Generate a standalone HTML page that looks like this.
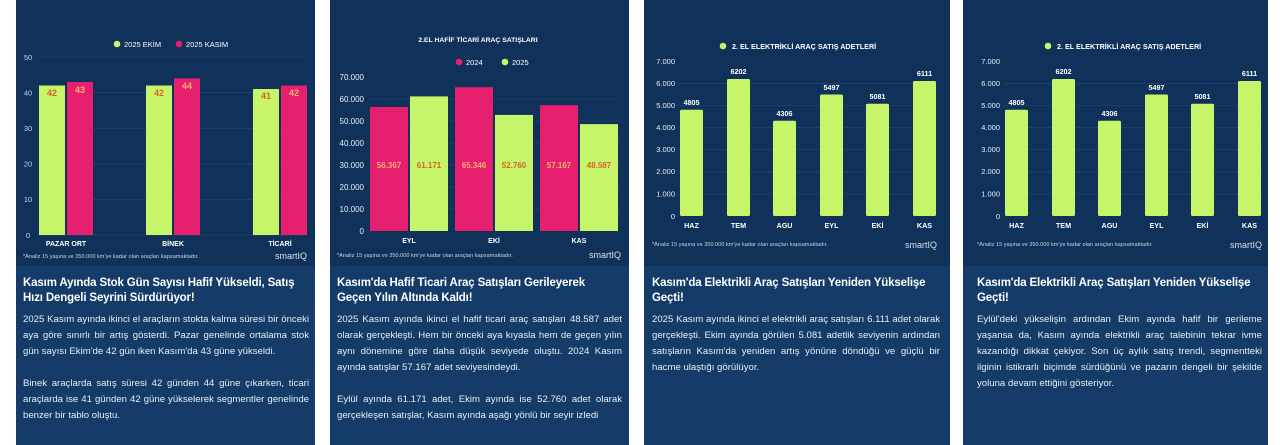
<!DOCTYPE html>
<html><head><meta charset="utf-8">
<style>
html,body{margin:0;padding:0;background:#fff;}
body{width:1280px;height:445px;position:relative;overflow:hidden;font-family:"Liberation Sans",sans-serif;}
.card{position:absolute;top:0;height:445px;background:#153c68;}
.top{position:absolute;left:0;top:0;right:0;height:266px;background:#10315a;}
.txt{position:absolute;color:#e6edf5;}
.t{font-weight:bold;font-size:11.5px;line-height:15px;color:#fff;letter-spacing:-0.15px;white-space:nowrap;}
.p{font-size:9.6px;line-height:16px;text-align:justify;margin:0;}
svg{position:absolute;left:0;top:0;}
</style></head><body>
<div class="card" style="left:16px;width:299px"><div class="top"></div></div>
<div class="card" style="left:330px;width:299px"><div class="top"></div></div>
<div class="card" style="left:644px;width:306px"><div class="top"></div></div>
<div class="card" style="left:963px;width:305px"><div class="top"></div></div>

<svg width="1280" height="445" font-family="Liberation Sans, sans-serif">
<!-- Card1 -->
<g stroke="#2a4a72" stroke-width="0.6">
<line x1="37" x2="307" y1="57" y2="57"/><line x1="37" x2="307" y1="92.6" y2="92.6"/><line x1="37" x2="307" y1="128.2" y2="128.2"/><line x1="37" x2="307" y1="163.8" y2="163.8"/><line x1="37" x2="307" y1="199.4" y2="199.4"/><line x1="37" x2="307" y1="235" y2="235"/>
</g>
<g fill="#c9d4e2" font-size="7.5" text-anchor="middle">
<text x="28" y="60">50</text><text x="28" y="95.6">40</text><text x="28" y="131">30</text><text x="28" y="166.6">20</text><text x="28" y="202">10</text><text x="28" y="238">0</text>
</g>
<circle cx="117" cy="44" r="3.3" fill="#c6f56a"/><text x="124" y="47" fill="#fff" font-size="7.5">2025 EKİM</text>
<circle cx="179" cy="44" r="3.3" fill="#e61f6f"/><text x="186" y="47" fill="#fff" font-size="7.5">2025 KASIM</text>
<g fill="#c6f56a"><rect x="39" y="85.5" width="26" height="149.5"/><rect x="146" y="85.5" width="26" height="149.5"/><rect x="253" y="89" width="26" height="146"/></g>
<g fill="#e61f6f"><rect x="67" y="82" width="26" height="153"/><rect x="174" y="78.4" width="26" height="156.6"/><rect x="281" y="85.5" width="26" height="149.5"/></g>
<g font-size="9" text-anchor="middle" font-weight="bold">
<text x="52" y="96" fill="#d9622b">42</text><text x="80" y="93" fill="#f6b26b">43</text>
<text x="159" y="96" fill="#d9622b">42</text><text x="187" y="89" fill="#f6b26b">44</text>
<text x="266" y="99" fill="#d9622b">41</text><text x="294" y="96" fill="#f6b26b">42</text>
</g>
<g fill="#fff" font-size="7" font-weight="bold" text-anchor="middle">
<text x="66" y="246">PAZAR ORT</text><text x="173" y="246">BİNEK</text><text x="280" y="246">TİCARİ</text>
</g>
<text x="23" y="258" fill="#c9d4e2" font-size="5.6">*Analiz 15 yaşına ve 350.000 km'ye kadar olan araçları kapsamaktadır.</text>
<text x="307" y="259" fill="#d8e0ea" font-size="9" text-anchor="end">smartIQ</text>

<!-- Card2 -->
<text x="478" y="42" fill="#fff" font-size="6.8" font-weight="bold" text-anchor="middle">2.EL HAFİF TİCARİ ARAÇ SATIŞLARI</text>
<circle cx="459" cy="62" r="3.3" fill="#e61f6f"/><text x="466" y="65" fill="#fff" font-size="7.5">2024</text>
<circle cx="505" cy="62" r="3.3" fill="#c6f56a"/><text x="512" y="65" fill="#fff" font-size="7.5">2025</text>
<g stroke="#2a4a72" stroke-width="0.6">
<line x1="368" x2="620" y1="99" y2="99"/><line x1="368" x2="620" y1="121" y2="121"/><line x1="368" x2="620" y1="143" y2="143"/><line x1="368" x2="620" y1="165" y2="165"/><line x1="368" x2="620" y1="187" y2="187"/><line x1="368" x2="620" y1="209" y2="209"/>
</g>
<g fill="#e8eef5" font-size="8" text-anchor="end">
<text x="364" y="80">70.000</text><text x="364" y="102">60.000</text><text x="364" y="124">50.000</text><text x="364" y="146">40.000</text><text x="364" y="168">30.000</text><text x="364" y="190">20.000</text><text x="364" y="212">10.000</text><text x="364" y="234">0</text>
</g>
<g fill="#e61f6f"><rect x="370" y="107" width="38" height="124"/><rect x="455" y="87.2" width="38" height="143.8"/><rect x="540" y="105.2" width="38" height="125.8"/></g>
<g fill="#c6f56a"><rect x="410" y="96.4" width="38" height="134.6"/><rect x="495" y="114.9" width="38" height="116.1"/><rect x="580" y="124.1" width="38" height="106.9"/></g>
<g font-size="8" font-weight="bold" text-anchor="middle">
<text x="389" y="168" fill="#f6b26b">56.367</text><text x="429" y="168" fill="#d9622b">61.171</text>
<text x="474" y="168" fill="#f6b26b">65.346</text><text x="514" y="168" fill="#d9622b">52.760</text>
<text x="559" y="168" fill="#f6b26b">57.167</text><text x="599" y="168" fill="#d9622b">48.587</text>
</g>
<g fill="#fff" font-size="7" font-weight="bold" text-anchor="middle">
<text x="409" y="243">EYL</text><text x="494" y="243">EKİ</text><text x="579" y="243">KAS</text>
</g>
<text x="337" y="257" fill="#c9d4e2" font-size="5.6">*Analiz 15 yaşına ve 350.000 km'ye kadar olan araçları kapsamaktadır.</text>
<text x="621" y="258" fill="#d8e0ea" font-size="9" text-anchor="end">smartIQ</text>

<!-- Card3 -->
<circle cx="723" cy="46" r="3.3" fill="#c6f56a"/><text x="732" y="49" fill="#fff" font-size="7.2" font-weight="bold">2. EL ELEKTRİKLİ ARAÇ SATIŞ ADETLERİ</text>
<g stroke="#2a4a72" stroke-width="0.6">
<line x1="678" x2="938" y1="83.4" y2="83.4"/><line x1="678" x2="938" y1="105.5" y2="105.5"/><line x1="678" x2="938" y1="127.6" y2="127.6"/><line x1="678" x2="938" y1="149.7" y2="149.7"/><line x1="678" x2="938" y1="171.8" y2="171.8"/><line x1="678" x2="938" y1="193.9" y2="193.9"/>
</g>
<g fill="#e8eef5" font-size="7.5" text-anchor="end">
<text x="675" y="64">7.000</text><text x="675" y="86">6.000</text><text x="675" y="108">5.000</text><text x="675" y="130">4.000</text><text x="675" y="152">3.000</text><text x="675" y="174">2.000</text><text x="675" y="196.5">1.000</text><text x="675" y="219">0</text>
</g>
<g fill="#c6f56a"><rect x="680" y="109.8" width="23" height="106.2" rx="1.5"/><rect x="727" y="79" width="23" height="137" rx="1.5"/><rect x="773" y="120.8" width="23" height="95.2" rx="1.5"/><rect x="820" y="94.5" width="23" height="121.5" rx="1.5"/><rect x="866" y="103.7" width="23" height="112.3" rx="1.5"/><rect x="913" y="81" width="23" height="135" rx="1.5"/></g>
<g fill="#fff" font-size="7.2" font-weight="bold" text-anchor="middle">
<text x="691.5" y="105">4805</text><text x="738.5" y="74">6202</text><text x="784.5" y="116">4306</text><text x="831.5" y="90">5497</text><text x="877.5" y="99">5081</text><text x="924.5" y="76">6111</text>
<text x="691.5" y="228">HAZ</text><text x="738.5" y="228">TEM</text><text x="784.5" y="228">AGU</text><text x="831.5" y="228">EYL</text><text x="877.5" y="228">EKİ</text><text x="924.5" y="228">KAS</text>
</g>
<text x="652" y="246" fill="#c9d4e2" font-size="5.6">*Analiz 15 yaşına ve 350.000 km'ye kadar olan araçları kapsamaktadır.</text>
<text x="937" y="248" fill="#d8e0ea" font-size="9" text-anchor="end">smartIQ</text>

<!-- Card4 -->
<g transform="translate(325,0)">
<circle cx="723" cy="46" r="3.3" fill="#c6f56a"/><text x="732" y="49" fill="#fff" font-size="7.2" font-weight="bold">2. EL ELEKTRİKLİ ARAÇ SATIŞ ADETLERİ</text>
<g stroke="#2a4a72" stroke-width="0.6">
<line x1="678" x2="938" y1="83.4" y2="83.4"/><line x1="678" x2="938" y1="105.5" y2="105.5"/><line x1="678" x2="938" y1="127.6" y2="127.6"/><line x1="678" x2="938" y1="149.7" y2="149.7"/><line x1="678" x2="938" y1="171.8" y2="171.8"/><line x1="678" x2="938" y1="193.9" y2="193.9"/>
</g>
<g fill="#e8eef5" font-size="7.5" text-anchor="end">
<text x="675" y="64">7.000</text><text x="675" y="86">6.000</text><text x="675" y="108">5.000</text><text x="675" y="130">4.000</text><text x="675" y="152">3.000</text><text x="675" y="174">2.000</text><text x="675" y="196.5">1.000</text><text x="675" y="219">0</text>
</g>
<g fill="#c6f56a"><rect x="680" y="109.8" width="23" height="106.2" rx="1.5"/><rect x="727" y="79" width="23" height="137" rx="1.5"/><rect x="773" y="120.8" width="23" height="95.2" rx="1.5"/><rect x="820" y="94.5" width="23" height="121.5" rx="1.5"/><rect x="866" y="103.7" width="23" height="112.3" rx="1.5"/><rect x="913" y="81" width="23" height="135" rx="1.5"/></g>
<g fill="#fff" font-size="7.2" font-weight="bold" text-anchor="middle">
<text x="691.5" y="105">4805</text><text x="738.5" y="74">6202</text><text x="784.5" y="116">4306</text><text x="831.5" y="90">5497</text><text x="877.5" y="99">5081</text><text x="924.5" y="76">6111</text>
<text x="691.5" y="228">HAZ</text><text x="738.5" y="228">TEM</text><text x="784.5" y="228">AGU</text><text x="831.5" y="228">EYL</text><text x="877.5" y="228">EKİ</text><text x="924.5" y="228">KAS</text>
</g>
<text x="652" y="246" fill="#c9d4e2" font-size="5.6">*Analiz 15 yaşına ve 350.000 km'ye kadar olan araçları kapsamaktadır.</text>
<text x="937" y="248" fill="#d8e0ea" font-size="9" text-anchor="end">smartIQ</text>
</g>
</svg>

<div class="txt" style="left:23px;top:276px;width:286px">
<div class="t">Kasım Ayında Stok Gün Sayısı Hafif Yükseldi, Satış<br>Hızı Dengeli Seyrini Sürdürüyor!</div>
<p class="p" style="margin-top:6px">2025 Kasım ayında ikinci el araçların stokta kalma süresi bir önceki aya göre sınırlı bir artış gösterdi. Pazar genelinde ortalama stok gün sayısı Ekim'de 42 gün iken Kasım'da 43 güne yükseldi.</p>
<p class="p" style="margin-top:16px">Binek araçlarda satış süresi 42 günden 44 güne çıkarken, ticari araçlarda ise 41 günden 42 güne yükselerek segmentler genelinde benzer bir tablo oluştu.</p>
</div>
<div class="txt" style="left:337px;top:276px;width:285px">
<div class="t">Kasım'da Hafif Ticari Araç Satışları Gerileyerek<br>Geçen Yılın Altında Kaldı!</div>
<p class="p" style="margin-top:6px">2025 Kasım ayında ikinci el hafif ticari araç satışları 48.587 adet olarak gerçekleşti. Hem bir önceki aya kıyasla hem de geçen yılın aynı dönemine göre daha düşük seviyede oluştu. 2024 Kasım ayında satışlar 57.167 adet seviyesindeydi.</p>
<p class="p" style="margin-top:16px">Eylül ayında 61.171 adet, Ekim ayında ise 52.760 adet olarak gerçekleşen satışlar, Kasım ayında aşağı yönlü bir seyir izledi</p>
</div>
<div class="txt" style="left:652px;top:276px;width:288px">
<div class="t">Kasım'da Elektrikli Araç Satışları Yeniden Yükselişe<br>Geçti!</div>
<p class="p" style="margin-top:6px">2025 Kasım ayında ikinci el elektrikli araç satışları 6.111 adet olarak gerçekleşti. Ekim ayında görülen 5.081 adetlik seviyenin ardından satışların Kasım'da yeniden artış yönüne döndüğü ve güçlü bir hacme ulaştığı görülüyor.</p>
</div>
<div class="txt" style="left:977px;top:276px;width:285px">
<div class="t">Kasım'da Elektrikli Araç Satışları Yeniden Yükselişe<br>Geçti!</div>
<p class="p" style="margin-top:6px">Eylül'deki yükselişin ardından Ekim ayında hafif bir gerileme yaşansa da, Kasım ayında elektrikli araç talebinin tekrar ivme kazandığı dikkat çekiyor. Son üç aylık satış trendi, segmentteki ilginin istikrarlı biçimde sürdüğünü ve pazarın dengeli bir şekilde yoluna devam ettiğini gösteriyor.</p>
</div>
</body></html>
